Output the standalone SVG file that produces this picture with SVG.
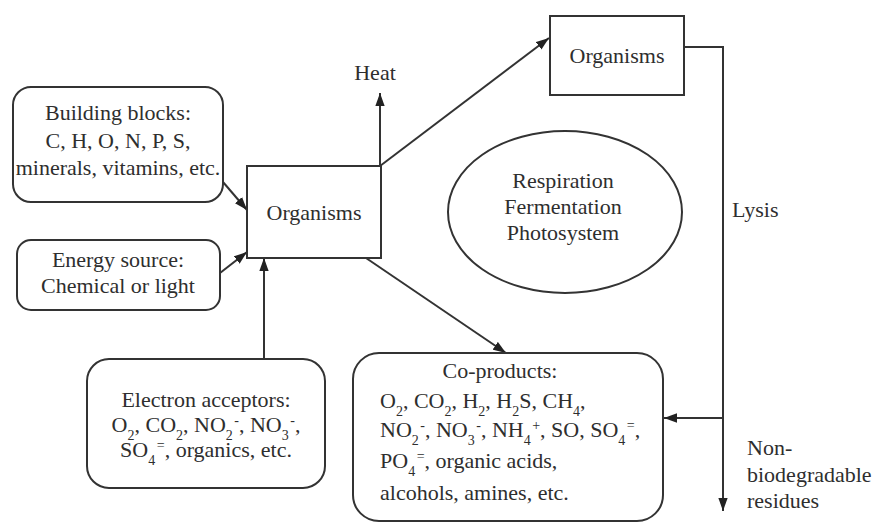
<svg xmlns="http://www.w3.org/2000/svg" width="878" height="529" viewBox="0 0 878 529">
<style>
text{font-family:'Liberation Serif',serif;font-size:22px;fill:#2e2e2e}
.c{text-anchor:middle}
.box{fill:#fff;stroke:#333;stroke-width:2}
.ln{fill:none;stroke:#333;stroke-width:2}
.s{font-size:14px}
</style>
<defs>
<marker id="a" viewBox="0 0 14 10" refX="14" refY="5" markerWidth="13" markerHeight="10" markerUnits="userSpaceOnUse" orient="auto">
<path d="M0,0 L14,5 L0,10 z" fill="#222"/>
</marker>
</defs>
<g id="connectors">
<line class="ln" x1="223" y1="182" x2="247" y2="210" marker-end="url(#a)"/>
<line class="ln" x1="220" y1="273" x2="247" y2="252" marker-end="url(#a)"/>
<line class="ln" x1="264" y1="359" x2="264" y2="258" marker-end="url(#a)"/>
<line class="ln" x1="380" y1="166" x2="380" y2="93" marker-end="url(#a)"/>
<line class="ln" x1="380" y1="166" x2="549" y2="38" marker-end="url(#a)"/>
<line class="ln" x1="366" y1="258" x2="506" y2="353" marker-end="url(#a)"/>
<polyline class="ln" points="684,47 723,47 723,511" marker-end="url(#a)"/>
<line class="ln" x1="723" y1="418" x2="664" y2="418" marker-end="url(#a)"/>
</g>
<g id="building-blocks">
<rect class="box" x="13" y="87" width="210" height="115" rx="18"/>
<text class="c" x="118" y="120" font-family="Liberation Serif">Building blocks:</text>
<text class="c" x="118" y="148" font-family="Liberation Serif">C, H, O, N, P, S,</text>
<text class="c" x="118" y="175" font-family="Liberation Serif">minerals, vitamins, etc.</text>
</g>
<g id="energy-source">
<rect class="box" x="17" y="240" width="203" height="70" rx="14"/>
<text class="c" x="118" y="267" font-family="Liberation Serif">Energy source:</text>
<text class="c" x="118" y="293" font-family="Liberation Serif">Chemical or light</text>
</g>
<g id="organisms-main">
<rect class="box" x="247" y="166" width="134" height="92"/>
<text class="c" x="314" y="220" font-family="Liberation Serif">Organisms</text>
</g>
<g id="electron-acceptors">
<rect class="box" x="87" y="359" width="238" height="129" rx="22"/>
<text class="c" x="206" y="407" font-family="Liberation Serif">Electron acceptors:</text>
<text class="c" x="206" y="432" font-family="Liberation Serif">O<tspan class="s" baseline-shift="sub">2</tspan>, CO<tspan class="s" baseline-shift="sub">2</tspan>, NO<tspan class="s" baseline-shift="sub">2</tspan><tspan class="s" dx="1.5" baseline-shift="super">-</tspan>, NO<tspan class="s" baseline-shift="sub">3</tspan><tspan class="s" dx="1.5" baseline-shift="super">-</tspan>,</text>
<text class="c" x="206" y="457" font-family="Liberation Serif">SO<tspan class="s" baseline-shift="sub">4</tspan><tspan class="s" dx="1.5" baseline-shift="super">=</tspan>, organics, etc.</text>
</g>
<g id="heat">
<text class="c" x="375" y="80" font-family="Liberation Serif">Heat</text>
</g>
<g id="organisms-top">
<rect class="box" x="550" y="16" width="134" height="79"/>
<text class="c" x="617" y="63" font-family="Liberation Serif">Organisms</text>
</g>
<g id="processes">
<ellipse class="box" cx="565" cy="212" rx="117" ry="81"/>
<text class="c" x="563" y="188" font-family="Liberation Serif">Respiration</text>
<text class="c" x="563" y="214" font-family="Liberation Serif">Fermentation</text>
<text class="c" x="563" y="240" font-family="Liberation Serif">Photosystem</text>
</g>
<g id="co-products">
<rect class="box" x="353" y="353" width="310" height="168" rx="26"/>
<text class="c" x="500" y="378" font-family="Liberation Serif">Co-products:</text>
<text x="380" y="408" font-family="Liberation Serif">O<tspan class="s" baseline-shift="sub">2</tspan>, CO<tspan class="s" baseline-shift="sub">2</tspan>, H<tspan class="s" baseline-shift="sub">2</tspan>, H<tspan class="s" baseline-shift="sub">2</tspan>S, CH<tspan class="s" baseline-shift="sub">4</tspan>,</text>
<text x="380" y="437" font-family="Liberation Serif">NO<tspan class="s" baseline-shift="sub">2</tspan><tspan class="s" dx="1.5" baseline-shift="super">-</tspan>, NO<tspan class="s" baseline-shift="sub">3</tspan><tspan class="s" dx="1.5" baseline-shift="super">-</tspan>, NH<tspan class="s" baseline-shift="sub">4</tspan><tspan class="s" dx="1.5" baseline-shift="super">+</tspan>, SO, SO<tspan class="s" baseline-shift="sub">4</tspan><tspan class="s" dx="1.5" baseline-shift="super">=</tspan>,</text>
<text x="380" y="468" font-family="Liberation Serif">PO<tspan class="s" baseline-shift="sub">4</tspan><tspan class="s" dx="1.5" baseline-shift="super">=</tspan>, organic acids,</text>
<text x="380" y="500" font-family="Liberation Serif">alcohols, amines, etc.</text>
</g>
<g id="lysis">
<text x="732" y="217" font-family="Liberation Serif">Lysis</text>
</g>
<g id="residues">
<text x="747" y="455" font-family="Liberation Serif">Non-</text>
<text x="747" y="482" font-family="Liberation Serif">biodegradable</text>
<text x="747" y="508" font-family="Liberation Serif">residues</text>
</g>
</svg>
